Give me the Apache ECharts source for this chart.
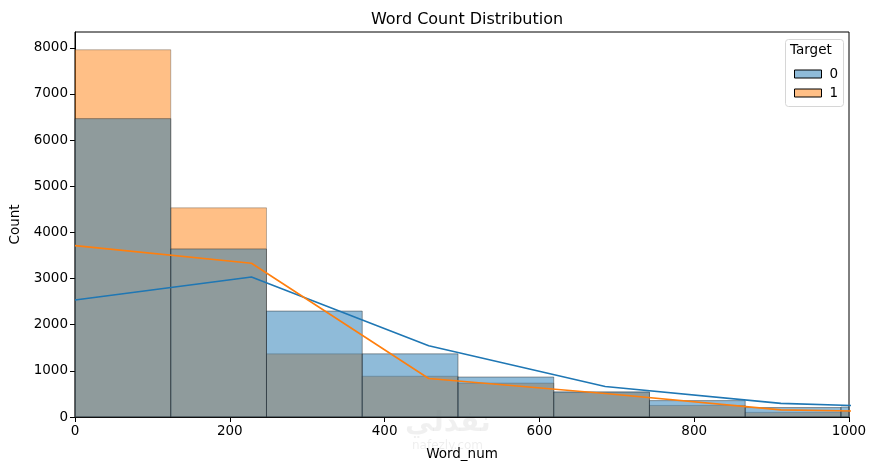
<!DOCTYPE html>
<html><head><meta charset="utf-8">
<script src="https://cdn.jsdelivr.net/npm/echarts@6/dist/echarts.min.js"></script>
<style>html,body{margin:0;padding:0;background:#fff}#c{width:876px;height:470px}</style>
</head><body><div id="c"></div>
<script>
// Data
const binEdges = [0, 123.7, 247.4, 371.1, 494.8, 618.5, 742.2, 865.9, 989.6, 1113.3];
const counts0 = [6465, 3642, 2295, 1368, 866, 545, 355, 205, 215];
const counts1 = [7957, 4532, 1368, 883, 735, 530, 250, 100, 125];
const kdeX = [0, 228, 457, 685, 912, 1140];
const kde0 = [2534, 3034, 1542, 660, 295, 178];
const kde1 = [3714, 3331, 834, 510, 155, 90];
const xTicks = [0, 200, 400, 600, 800, 1000];
const yTicks = [0, 1000, 2000, 3000, 4000, 5000, 6000, 7000, 8000];
const seriesNames = ['0', '1'];

const FONT = 'DejaVu Sans';
const fill0 = 'rgba(31,119,180,0.5)';
const fill1 = 'rgba(255,127,14,0.5)';

function histData(counts) {
  return counts.map((c, i) => [binEdges[i], binEdges[i + 1], c]);
}
function renderBin(params, api) {
  const p0 = api.coord([api.value(0), api.value(2)]);
  const p1 = api.coord([api.value(1), 0]);
  const cs = params.coordSys;
  const shape = echarts.graphic.clipRectByRect(
    { x: p0[0], y: p0[1], width: p1[0] - p0[0], height: p1[1] - p0[1] },
    { x: cs.x, y: cs.y, width: cs.width, height: cs.height });
  if (!shape) return;
  return { type: 'rect', shape: shape, style: api.style() };
}
function kdeData(vals) { return kdeX.map((x, i) => [x, vals[i]]); }

const chart = echarts.init(document.getElementById('c'));
chart.setOption({
  animation: false,
  textStyle: { fontFamily: FONT },
  title: {
    text: 'Word Count Distribution', left: 462, top: 7, textAlign: 'center',
    textStyle: { fontFamily: FONT, fontSize: 16, fontWeight: 'normal', color: '#000' }
  },
  grid: { left: 75, right: 27, top: 32, bottom: 53, show: true, borderColor: '#000', borderWidth: 1, backgroundColor: 'transparent' },
  xAxis: {
    type: 'value', min: 0, max: 1000, interval: 200,
    name: 'Word_num', nameLocation: 'middle', nameGap: 30,
    nameTextStyle: { fontFamily: FONT, fontSize: 13.5, color: '#000' },
    axisLine: { show: true, onZero: false, lineStyle: { color: '#000', width: 1 } },
    axisTick: { show: true, length: 5, lineStyle: { color: '#000' } },
    axisLabel: { fontFamily: FONT, fontSize: 13.5, color: '#000', margin: 7,
      formatter: v => xTicks.includes(v) ? String(v) : '' },
    splitLine: { show: false }
  },
  yAxis: {
    type: 'value', min: 0, max: 8342, interval: 1000,
    name: 'Count', nameLocation: 'middle', nameGap: 49,
    nameTextStyle: { fontFamily: FONT, fontSize: 13.5, color: '#000' },
    axisLine: { show: true, lineStyle: { color: '#000', width: 1 } },
    axisTick: { show: true, length: 5, lineStyle: { color: '#000' } },
    axisLabel: { fontFamily: FONT, fontSize: 13.5, color: '#000', margin: 7, showMaxLabel: false,
      formatter: v => yTicks.includes(v) ? String(v) : '' },
    splitLine: { show: false }
  },
  legend: {
    orient: 'vertical', left: 789, top: 62, itemWidth: 27, itemHeight: 8, itemGap: 5,
    icon: 'rect', selectedMode: false,
    textStyle: { fontFamily: FONT, fontSize: 13.5, color: '#000', padding: [0, 0, 0, 3] },
    data: [
      { name: seriesNames[0], itemStyle: { color: fill0, borderColor: '#000', borderWidth: 1 } },
      { name: seriesNames[1], itemStyle: { color: fill1, borderColor: '#000', borderWidth: 1 } }
    ]
  },
  graphic: [
    { type: 'rect', left: 785, top: 39, shape: { width: 58, height: 67, r: 3 },
      style: { fill: 'rgba(255,255,255,0.8)', stroke: '#d6d6d6', lineWidth: 1 }, z: 1 },
    { type: 'text', left: 790, top: 43, z: 2,
      style: { text: 'Target', fontFamily: FONT, fontSize: 13.5, fill: '#000' } },
    { type: 'text', left: 405, top: 410, z: 0, silent: true,
      style: { text: 'نفذلي', fontFamily: FONT, fontSize: 28, fontWeight: 'bold', fill: 'rgba(0,0,0,0.06)' } },
    { type: 'text', left: 412, top: 440, z: 0, silent: true,
      style: { text: 'nafezly.com', fontFamily: FONT, fontSize: 12, fill: 'rgba(0,0,0,0.07)' } }
  ],
  series: [
    { name: seriesNames[1], type: 'custom', renderItem: renderBin, data: histData(counts1),
      encode: { x: [0, 1], y: 2 }, z: 2,
      itemStyle: { color: fill1, borderColor: 'rgba(60,60,60,0.35)', borderWidth: 1 } },
    { name: seriesNames[0], type: 'custom', renderItem: renderBin, data: histData(counts0),
      encode: { x: [0, 1], y: 2 }, z: 3,
      itemStyle: { color: fill0, borderColor: 'rgba(40,40,40,0.45)', borderWidth: 1 } },
    { name: 'kde0', type: 'line', data: kdeData(kde0), showSymbol: false, z: 5, clip: true,
      lineStyle: { color: '#1f77b4', width: 1.6 }, itemStyle: { color: '#1f77b4' } },
    { name: 'kde1', type: 'line', data: kdeData(kde1), showSymbol: false, z: 6, clip: true,
      lineStyle: { color: '#ff7f0e', width: 1.6 }, itemStyle: { color: '#ff7f0e' } }
  ]
});
</script>
</body></html>
